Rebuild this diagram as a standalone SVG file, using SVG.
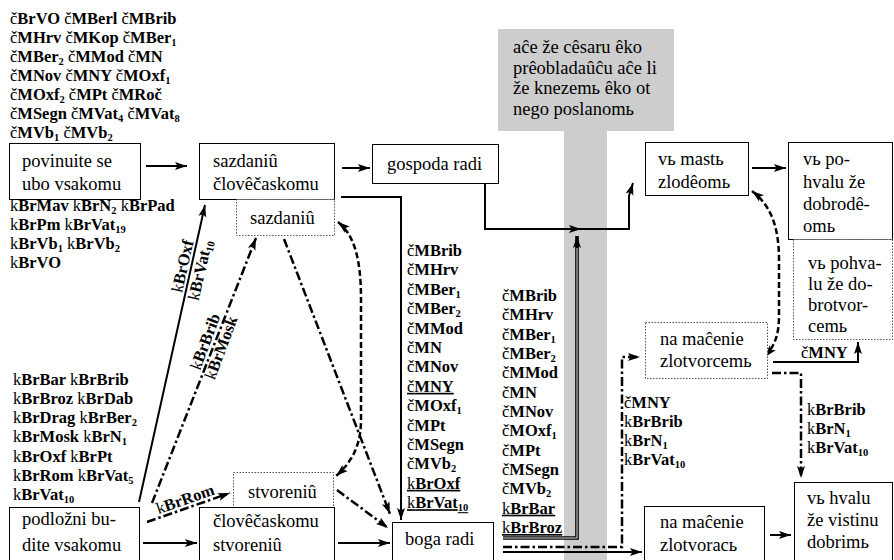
<svg xmlns="http://www.w3.org/2000/svg" width="894" height="560" viewBox="0 0 894 560">
<style>
.t{font-family:"Liberation Serif","DejaVu Serif",serif;font-size:18.5px;fill:#000}
.l{font-family:"Liberation Serif","DejaVu Serif",serif;font-size:16.5px;font-weight:bold;fill:#000}
.n{font-weight:normal}
.s{font-size:10.5px;baseline-shift:-3px}
.u{text-decoration:underline}
.box{fill:#fff;stroke:#000;stroke-width:1}
.dbox{fill:#fff;stroke:#555;stroke-width:1;stroke-dasharray:1.5 1.5}
.ln{fill:none;stroke:#000;stroke-width:2}
.dd{fill:none;stroke:#000;stroke-width:2.5;stroke-dasharray:9 3 2.5 3}
.da{fill:none;stroke:#000;stroke-width:2.5;stroke-dasharray:6 3}
</style>
<defs>
<marker id="ah" markerWidth="13" markerHeight="10" refX="12" refY="5" orient="auto-start-reverse" markerUnits="userSpaceOnUse"><path d="M0,1 L12,5 L0,9 L2.5,5 z" fill="#000"/></marker>
</defs>
<rect width="894" height="560" fill="#fff"/>
<path d="M498,29 H674 V131 H607 V560 H564 V131 H498 Z" fill="#cdcdcd"/>
<g id="gray-text" class="t">
<text x="513" y="53">aĉe že cêsaru êko</text>
<text x="513" y="74">prêobladaûĉu aĉe li</text>
<text x="513" y="94">že knezemь êko ot</text>
<text x="513" y="115">nego poslanomь</text>
</g>
<g id="connectors">
<path class="ln" d="M146,166 H187" marker-end="url(#ah)"/>
<path class="ln" d="M342,168 H370" marker-end="url(#ah)"/>
<path class="ln" d="M341,197 H401 V520" marker-end="url(#ah)"/>
<path class="ln" d="M485,183 V229 H581" marker-end="url(#ah)"/>
<path class="ln" d="M579,229 H629 V196 L633,183" marker-end="url(#ah)"/>
<path fill="none" stroke="#000" stroke-width="3.6" d="M503,538 H577 V236" marker-end="url(#ah)"/>
<path fill="none" stroke="#fff" stroke-width="0.9" d="M503,538 H577 V248"/>
<path class="ln" d="M503,552 H642" marker-end="url(#ah)"/>
<path class="dd" d="M503,547 H622 V357 H640" marker-end="url(#ah)"/>
<path class="ln" d="M773,362 H858 V342" marker-end="url(#ah)"/>
<path class="dd" d="M772,373 H801 V478" marker-end="url(#ah)"/>
<path class="ln" d="M770,535 H791" marker-end="url(#ah)"/>
<path class="ln" d="M752,168 H786" marker-end="url(#ah)"/>
<path class="da" d="M752,191 C770,205 779,225 779,260 L779,315 C779,335 775,345 765,357" marker-start="url(#ah)" marker-end="url(#ah)"/>
<path class="da" d="M338,222 C355,236 361,260 361,300 L361,420 C361,445 352,462 336,476" marker-start="url(#ah)" marker-end="url(#ah)"/>
<path class="dd" d="M284,239 L390,514" marker-end="url(#ah)"/>
<path class="dd" d="M337,490 L388,528" marker-end="url(#ah)"/>
<path class="ln" d="M143,543 H197" marker-end="url(#ah)"/>
<path class="ln" d="M338,543 H390" marker-end="url(#ah)"/>
<path class="ln" d="M139,502 L205,205" marker-end="url(#ah)"/>
<path class="dd" d="M152,503 L256,238" marker-end="url(#ah)"/>
<path class="dd" d="M147,522 L230,493" marker-end="url(#ah)"/>
</g>
<g id="n-povinuite"><rect class="box" x="9.5" y="143.5" width="131" height="56"/><text class="t" x="22" y="167">povinuite se</text><text class="t" x="22" y="190">ubo vsakomu</text></g>
<g id="n-sazdaniu-clov"><rect class="box" x="199.5" y="143.5" width="135" height="56"/><text class="t" x="213" y="167">sazdaniû</text><text class="t" x="213" y="190">človêčaskomu</text></g>
<g id="n-sazdaniu"><rect class="dbox" x="236.5" y="199.5" width="98" height="36"/><text class="t" x="250" y="224">sazdaniû</text></g>
<g id="n-gospoda"><rect class="box" x="372.5" y="144.5" width="126" height="39"/><text class="t" x="387" y="170">gospoda radi</text></g>
<g id="n-mast"><rect class="box" x="645.5" y="142.5" width="103" height="53"/><text class="t" x="658" y="165">vь mastь</text><text class="t" x="658" y="188">zlodêomь</text></g>
<g id="n-pohvalu"><rect class="box" x="788.5" y="142.5" width="104" height="97"/><text class="t" x="803" y="165">vь po-</text><text class="t" x="803" y="188">hvalu že</text><text class="t" x="803" y="210">dobrodê-</text><text class="t" x="803" y="232">omь</text></g>
<g id="n-pohva"><rect class="dbox" x="793.5" y="239.5" width="99" height="100"/><text class="t" x="808" y="269">vь pohva-</text><text class="t" x="808" y="290">lu že do-</text><text class="t" x="808" y="311">brotvor-</text><text class="t" x="808" y="332">cemь</text></g>
<g id="n-zlotvorcem"><rect class="dbox" x="645.5" y="322.5" width="122" height="56"/><text class="t" x="660" y="345">na maĉenie</text><text class="t" x="660" y="367">zlotvorcemь</text></g>
<g id="n-vhvalu"><rect class="box" x="794.5" y="482.5" width="98" height="82"/><text class="t" x="807" y="504">vь hvalu</text><text class="t" x="807" y="526">že vistinu</text><text class="t" x="807" y="548">dobrimь</text></g>
<g id="n-zlotvorac"><rect class="box" x="644.5" y="506.5" width="120" height="58"/><text class="t" x="660" y="528">na maĉenie</text><text class="t" x="660" y="551">zlotvoracь</text></g>
<g id="n-boga"><rect class="box" x="392.5" y="522.5" width="101" height="42"/><text class="t" x="405" y="545">boga radi</text></g>
<g id="n-stvoreniu"><rect class="dbox" x="233.5" y="472.5" width="100" height="35"/><text class="t" x="248" y="498">stvoreniû</text></g>
<g id="n-clov-stvoreniu"><rect class="box" x="199.5" y="507.5" width="135" height="57"/><text class="t" x="213" y="527">človêčaskomu</text><text class="t" x="213" y="551">stvoreniû</text></g>
<g id="n-podlozni"><rect class="box" x="9.5" y="507.5" width="130" height="57"/><text class="t" x="22" y="525">podložni bu-</text><text class="t" x="22" y="551">dite vsakomu</text></g>
<g id="labels" class="l">
<text x="10" y="24"><tspan class="n">č</tspan>BrVO <tspan class="n">č</tspan>MBerl <tspan class="n">č</tspan>MBrib</text>
<text x="10" y="43"><tspan class="n">č</tspan>MHrv <tspan class="n">č</tspan>MKop <tspan class="n">č</tspan>MBer<tspan class="s">1</tspan></text>
<text x="10" y="62"><tspan class="n">č</tspan>MBer<tspan class="s">2</tspan> <tspan class="n">č</tspan>MMod <tspan class="n">č</tspan>MN</text>
<text x="10" y="81"><tspan class="n">č</tspan>MNov <tspan class="n">č</tspan>MNY <tspan class="n">č</tspan>MOxf<tspan class="s">1</tspan></text>
<text x="10" y="100"><tspan class="n">č</tspan>MOxf<tspan class="s">2</tspan> <tspan class="n">č</tspan>MPt <tspan class="n">č</tspan>MRoč</text>
<text x="10" y="119"><tspan class="n">č</tspan>MSegn <tspan class="n">č</tspan>MVat<tspan class="s">4</tspan> <tspan class="n">č</tspan>MVat<tspan class="s">8</tspan></text>
<text x="10" y="138"><tspan class="n">č</tspan>MVb<tspan class="s">1</tspan> <tspan class="n">č</tspan>MVb<tspan class="s">2</tspan></text>
<text x="10" y="211"><tspan class="n">k</tspan>BrMav <tspan class="n">k</tspan>BrN<tspan class="s">2</tspan> <tspan class="n">k</tspan>BrPad</text>
<text x="10" y="230"><tspan class="n">k</tspan>BrPm <tspan class="n">k</tspan>BrVat<tspan class="s">19</tspan></text>
<text x="10" y="249"><tspan class="n">k</tspan>BrVb<tspan class="s">1</tspan> <tspan class="n">k</tspan>BrVb<tspan class="s">2</tspan></text>
<text x="10" y="268"><tspan class="n">k</tspan>BrVO</text>
<text x="13" y="385"><tspan class="n">k</tspan>BrBar <tspan class="n">k</tspan>BrBrib</text>
<text x="13" y="404"><tspan class="n">k</tspan>BrBroz <tspan class="n">k</tspan>BrDab</text>
<text x="13" y="423"><tspan class="n">k</tspan>BrDrag <tspan class="n">k</tspan>BrBer<tspan class="s">2</tspan></text>
<text x="13" y="442"><tspan class="n">k</tspan>BrMosk <tspan class="n">k</tspan>BrN<tspan class="s">1</tspan></text>
<text x="13" y="462"><tspan class="n">k</tspan>BrOxf <tspan class="n">k</tspan>BrPt</text>
<text x="13" y="481"><tspan class="n">k</tspan>BrRom <tspan class="n">k</tspan>BrVat<tspan class="s">5</tspan></text>
<text x="13" y="500"><tspan class="n">k</tspan>BrVat<tspan class="s">10</tspan></text>
<text x="407" y="256"><tspan class="n">č</tspan>MBrib</text>
<text x="407" y="275.4"><tspan class="n">č</tspan>MHrv</text>
<text x="407" y="294.8"><tspan class="n">č</tspan>MBer<tspan class="s">1</tspan></text>
<text x="407" y="314.2"><tspan class="n">č</tspan>MBer<tspan class="s">2</tspan></text>
<text x="407" y="333.6"><tspan class="n">č</tspan>MMod</text>
<text x="407" y="353"><tspan class="n">č</tspan>MN</text>
<text x="407" y="372.4"><tspan class="n">č</tspan>MNov</text>
<text x="407" y="391.8" class="u"><tspan class="n">č</tspan>MNY</text>
<text x="407" y="411.2"><tspan class="n">č</tspan>MOxf<tspan class="s">1</tspan></text>
<text x="407" y="430.6"><tspan class="n">č</tspan>MPt</text>
<text x="407" y="450"><tspan class="n">č</tspan>MSegn</text>
<text x="407" y="469.4"><tspan class="n">č</tspan>MVb<tspan class="s">2</tspan></text>
<text x="407" y="488.8" class="u"><tspan class="n">k</tspan>BrOxf</text>
<text x="407" y="508.2" class="u"><tspan class="n">k</tspan>BrVat<tspan class="s">10</tspan></text>
<text x="502" y="301"><tspan class="n">č</tspan>MBrib</text>
<text x="502" y="320.3"><tspan class="n">č</tspan>MHrv</text>
<text x="502" y="339.7"><tspan class="n">č</tspan>MBer<tspan class="s">1</tspan></text>
<text x="502" y="359"><tspan class="n">č</tspan>MBer<tspan class="s">2</tspan></text>
<text x="502" y="378.3"><tspan class="n">č</tspan>MMod</text>
<text x="502" y="397.7"><tspan class="n">č</tspan>MN</text>
<text x="502" y="417"><tspan class="n">č</tspan>MNov</text>
<text x="502" y="436.3"><tspan class="n">č</tspan>MOxf<tspan class="s">1</tspan></text>
<text x="502" y="455.7"><tspan class="n">č</tspan>MPt</text>
<text x="502" y="475"><tspan class="n">č</tspan>MSegn</text>
<text x="502" y="494.3"><tspan class="n">č</tspan>MVb<tspan class="s">2</tspan></text>
<text x="502" y="513.7" class="u"><tspan class="n">k</tspan>BrBar</text>
<text x="502" y="533" class="u"><tspan class="n">k</tspan>BrBroz</text>
<text x="624" y="408"><tspan class="n">č</tspan>MNY</text>
<text x="624" y="427"><tspan class="n">k</tspan>BrBrib</text>
<text x="624" y="446"><tspan class="n">k</tspan>BrN<tspan class="s">1</tspan></text>
<text x="624" y="465"><tspan class="n">k</tspan>BrVat<tspan class="s">10</tspan></text>
<text x="807" y="415"><tspan class="n">k</tspan>BrBrib</text>
<text x="807" y="434"><tspan class="n">k</tspan>BrN<tspan class="s">1</tspan></text>
<text x="807" y="453"><tspan class="n">k</tspan>BrVat<tspan class="s">10</tspan></text>
<text x="801" y="358"><tspan class="n">č</tspan>MNY</text>
<g transform="translate(190.7,268) rotate(-77.2)"><text x="0" y="-3" text-anchor="middle"><tspan class="n">k</tspan>BrOxf</text><text x="0" y="15" text-anchor="middle"><tspan class="n">k</tspan>BrVat<tspan class="s">10</tspan></text></g>
<g transform="translate(214,345) rotate(-69.4)"><text x="0" y="-4" text-anchor="middle"><tspan class="n">k</tspan>BrBrib</text><text x="0" y="13" text-anchor="middle"><tspan class="n">k</tspan>BrMosk</text></g>
<g transform="translate(188,507) rotate(-19.3)"><text x="0" y="-3" text-anchor="middle"><tspan class="n">k</tspan>BrRom</text></g>
</g>
</svg>
